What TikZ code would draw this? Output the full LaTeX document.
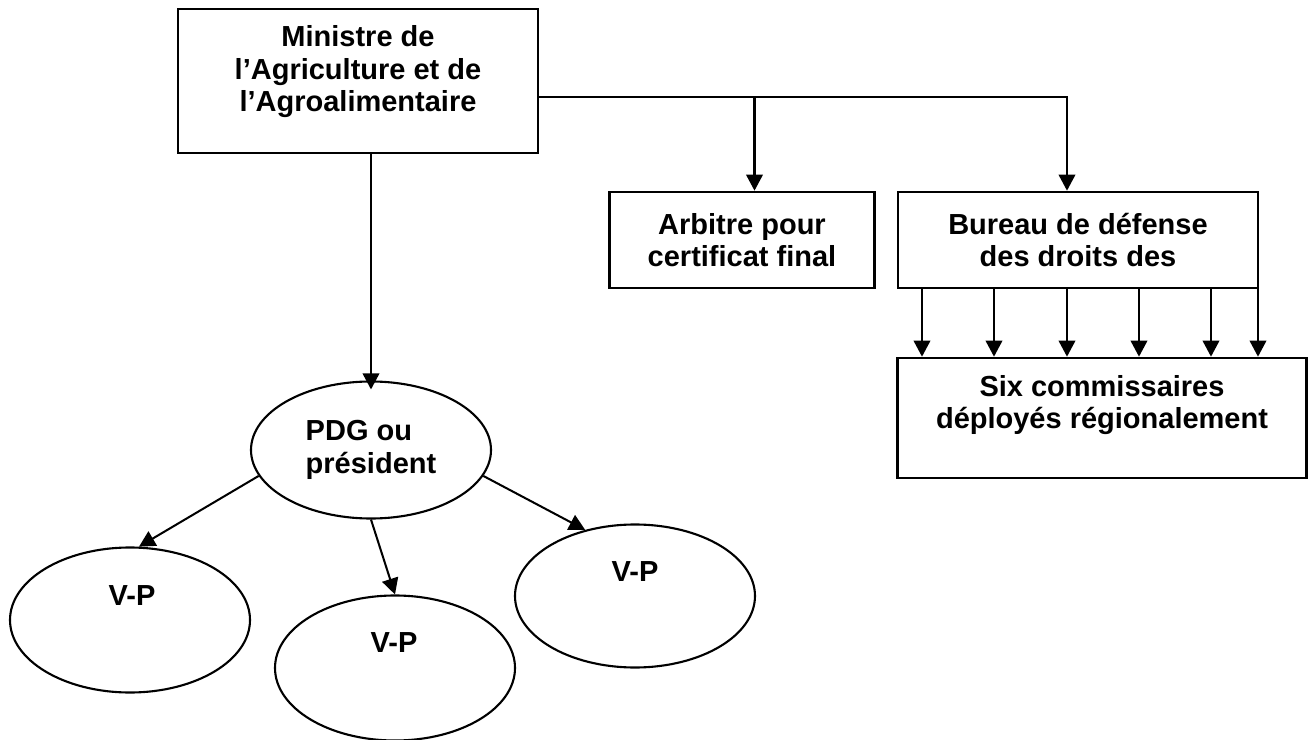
\documentclass[tikz,border=0pt]{standalone}
\usepackage{fontspec}
\setmainfont{Liberation Sans}
\usetikzlibrary{arrows.meta,shapes.geometric}

\begin{document}
\begin{tikzpicture}[x=0.2mm, y=-0.2mm,
		font=\bfseries\fontsize{16.5}{18.5}\selectfont,
		box/.style={draw, line width=1.5pt, rectangle, align=center, inner sep=0pt},
		oval/.style={draw, line width=1.2pt, ellipse, align=left, inner sep=0pt, minimum width=48mm},
		arr/.style={line width=1.15pt, -{Triangle[length=3.2mm, width=3.3mm]}}]
			\useasboundingbox (0, 0) rectangle (1313, 740);

			\draw (358, 81) 	node[box, minimum width=72mm, minimum height=28.8mm] 	(minister) 	{};
			\draw (358, 72) 	node[align=center] 	(minister_t) 	{Ministre de\\l’Agriculture et de\\l’Agroalimentaire};
			\draw (742, 240) 	node[box, minimum width=53mm, minimum height=19.2mm] 	(arbitre) 	{Arbitre pour\\certificat final};
			\draw (1078, 240) 	node[box, minimum width=72mm, minimum height=19.2mm] 	(bureau) 	{Bureau de défense\\des droits des};
			\draw (1102, 418) 	node[box, minimum width=81.8mm, minimum height=24mm] 	(comm) 		{};
			\draw (1102, 405) 	node[align=center] 	(comm_t) 	{Six commissaires\\déployés régionalement};
			\draw (371, 450) 	node[oval, minimum height=27.4mm] 	(pdg) 		{PDG ou\\président};
			\draw (130, 620) 	node[oval, minimum height=29mm] 	(vp1) 		{};
			\draw (395, 668) 	node[oval, minimum height=29mm] 	(vp2) 		{};
			\draw (635, 596) 	node[oval, minimum height=28.6mm] 	(vp3) 		{};
			\draw (132, 596) 	node 	(vp1_t) 	{V-P};
			\draw (394, 643) 	node 	(vp2_t) 	{V-P};
			\draw (635, 572) 	node 	(vp3_t) 	{V-P};

			\coordinate (split) at (538, 97);
			\coordinate (arb_in) at ([xshift=2.5mm]arbitre.north);

			\draw[line width=1.15pt] (split) -- (split -| arb_in);
			\draw[arr] (split) -| ([xshift=-2.2mm]bureau.north);
			\draw[arr] (split -| arb_in) -- (arb_in);
			\foreach \x in {922, 994, 1067, 1139, 1211, 1258}
				\draw[arr] (\x,0 |- bureau.south) -- (\x,0 |- comm.north);

			\draw[arr, shorten >=-1.8mm] (minister.south -| pdg.north) -- (pdg.north);
			\draw[arr] (pdg.193) -- (vp1.83);
			\draw[arr] (pdg.south) -- (vp2.north);
			\draw[arr] (pdg.-13) -- (vp3.127);
		\end{tikzpicture}
\end{document}
